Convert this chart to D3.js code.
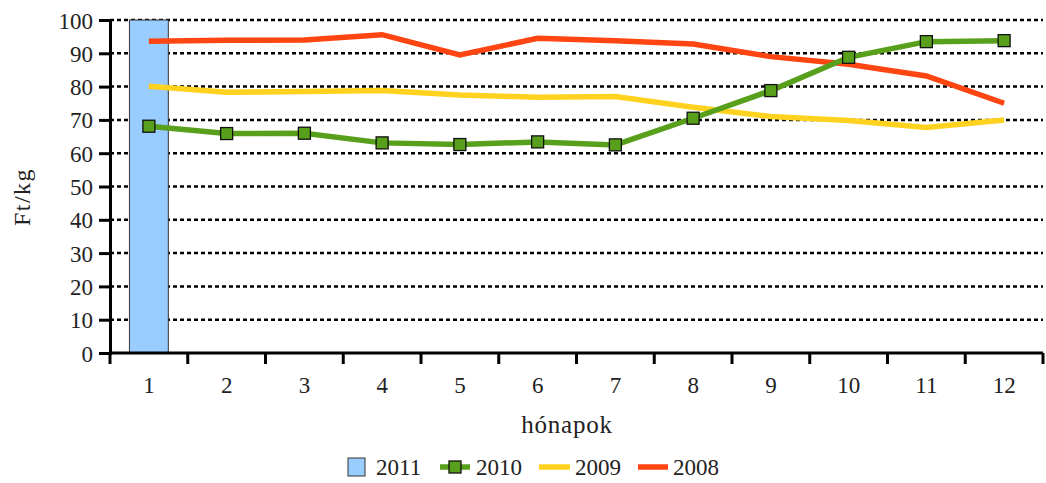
<!DOCTYPE html>
<html><head><meta charset="utf-8">
<script src="https://cdn.jsdelivr.net/npm/d3@7"></script>
<style>body{margin:0;background:#fff}svg{display:block}svg text{font-family:"Times New Roman","Liberation Serif",Times,"DejaVu Serif",serif !important;fill:#222}</style>
</head><body><svg id="c" width="1046" height="483"></svg>
<script>
const months = ["1","2","3","4","5","6","7","8","9","10","11","12"];
const s2011 = [100,null,null,null,null,null,null,null,null,null,null,null];
const s2010 = [68.1,65.9,66.0,63.1,62.6,63.4,62.5,70.5,78.8,88.8,93.5,93.8];
const s2009 = [80.1,78.3,78.5,78.8,77.5,76.8,77.0,73.8,71.0,69.8,67.7,70.0];
const s2008 = [93.6,93.9,94.0,95.6,89.5,94.5,93.8,92.8,89.0,86.7,83.2,75.0];
const yTicks = [0,10,20,30,40,50,60,70,80,90,100];

const svg = d3.select("#c");
const L=110,R=1043,T=20,B=353;
const x = d3.scaleBand().domain(months).range([L,R]);
const y = d3.scaleLinear().domain([0,100]).range([B,T]);
const cx = m => x(m)+x.bandwidth()/2;

// gridlines
svg.append("g").selectAll("line").data(yTicks.filter(d=>d>0)).join("line")
  .attr("x1",L).attr("x2",R).attr("y1",d=>y(d)).attr("y2",d=>y(d))
  .attr("stroke","#000").attr("stroke-width",2.5).attr("stroke-dasharray","4,3");

// bars 2011
svg.append("g").selectAll("rect").data(months.map((m,i)=>({m,v:s2011[i]})).filter(d=>d.v!=null)).join("rect")
  .attr("x",d=>x(d.m)+x.bandwidth()*0.25).attr("width",x.bandwidth()*0.5)
  .attr("y",d=>y(d.v)).attr("height",d=>B-y(d.v))
  .attr("fill","#99CCFF").attr("stroke","#333").attr("stroke-width",1);

// axes
const ya = svg.append("g").attr("transform",`translate(${L},0)`)
  .call(d3.axisLeft(y).tickValues(yTicks).tickSize(11).tickPadding(6));
ya.attr("font-family",null);
ya.select(".domain").attr("stroke-width",3);
ya.selectAll(".tick line").attr("stroke-width",3);
ya.selectAll(".tick text").attr("font-size",23).attr("dy","0.35em").attr("fill","#222");

const xa = svg.append("g").attr("transform",`translate(0,${B})`)
  .call(d3.axisBottom(x).tickSize(0).tickPadding(24));
xa.attr("font-family",null);
xa.select(".domain").attr("stroke-width",3).attr("d",`M${L},0H${R}`);
xa.selectAll(".tick text").attr("font-size",23).attr("fill","#222");
svg.append("g").selectAll("line").data(months.map(m=>x(m)).concat([R])).join("line")
  .attr("x1",d=>d).attr("x2",d=>d).attr("y1",B).attr("y2",B+11).attr("stroke","#000").attr("stroke-width",3);

// lines
const line = d3.line().x((d,i)=>cx(months[i])).y(d=>y(d));
const series = [[s2009,"#FFD21F"],[s2008,"#FF4511"],[s2010,"#58A01C"]];
series.forEach(([s,c])=>{
  svg.append("path").datum(s).attr("d",line).attr("fill","none").attr("stroke",c).attr("stroke-width",5.5);
});
svg.append("g").selectAll("rect").data(s2010).join("rect")
  .attr("x",(d,i)=>cx(months[i])-6).attr("y",d=>y(d)-6).attr("width",12).attr("height",12)
  .attr("fill","#58A01C").attr("stroke","#111").attr("stroke-width",1.3);

// titles
svg.append("text").attr("transform",`translate(30,${197}) rotate(-90)`).attr("text-anchor","middle")
  .attr("font-size",24).attr("letter-spacing",1.5).text("Ft/kg");
svg.append("text").attr("x",567).attr("y",433).attr("text-anchor","middle").attr("font-size",25).attr("letter-spacing",0.8).text("hónapok");

// legend
const lg = svg.append("g");
const ly = 467;
lg.append("rect").attr("x",348).attr("y",ly-9).attr("width",17).attr("height",18).attr("fill","#99CCFF").attr("stroke","#333");
lg.append("text").attr("x",376).attr("y",ly+8).attr("font-size",23).text("2011");
lg.append("line").attr("x1",440).attr("x2",470).attr("y1",ly).attr("y2",ly).attr("stroke","#58A01C").attr("stroke-width",5.5);
lg.append("rect").attr("x",449).attr("y",ly-6).attr("width",12).attr("height",12).attr("fill","#58A01C").attr("stroke","#111").attr("stroke-width",1.3);
lg.append("text").attr("x",476).attr("y",ly+8).attr("font-size",23).text("2010");
lg.append("line").attr("x1",539).attr("x2",570).attr("y1",ly).attr("y2",ly).attr("stroke","#FFD21F").attr("stroke-width",5.5);
lg.append("text").attr("x",575).attr("y",ly+8).attr("font-size",23).text("2009");
lg.append("line").attr("x1",638).attr("x2",668).attr("y1",ly).attr("y2",ly).attr("stroke","#FF4511").attr("stroke-width",5.5);
lg.append("text").attr("x",673).attr("y",ly+8).attr("font-size",23).text("2008");
</script></body></html>
